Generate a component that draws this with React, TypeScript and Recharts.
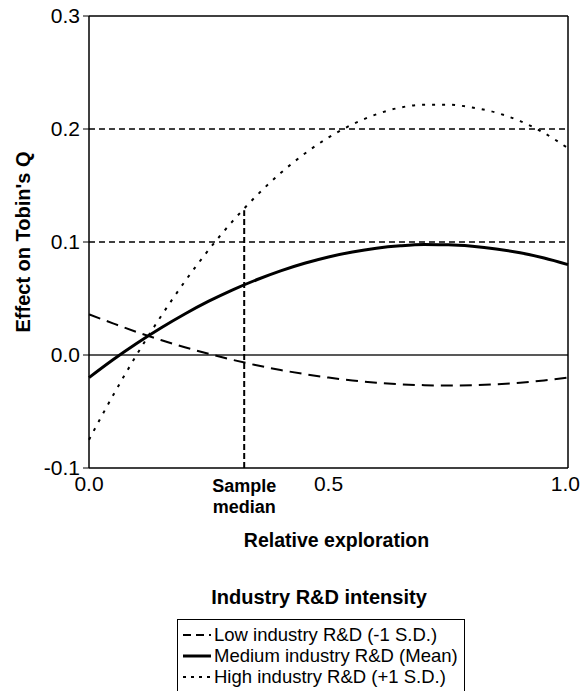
import { LineChart, Line, XAxis, YAxis, ReferenceLine } from "recharts";

const FONT = "'Liberation Sans', Arial, Helvetica, sans-serif";

// relative exploration (x)
const xValues = [0, 0.05, 0.1, 0.15, 0.2, 0.25, 0.3, 0.35, 0.4, 0.45, 0.5, 0.55, 0.6, 0.65, 0.7, 0.75, 0.8, 0.85, 0.9, 0.95, 1.0];

// effect on Tobin's Q
const lowRD = [0.036, 0.028, 0.0203, 0.0133, 0.0069, 0.001, -0.0043, -0.0091, -0.0133, -0.0169, -0.02, -0.0225, -0.0245, -0.0259, -0.0267, -0.027, -0.0267, -0.0259, -0.0245, -0.0225, -0.02];
const mediumRD = [-0.02, -0.0042, 0.0104, 0.0239, 0.0363, 0.0476, 0.0577, 0.0666, 0.0745, 0.0812, 0.0868, 0.0912, 0.0945, 0.0966, 0.0977, 0.0976, 0.0963, 0.0939, 0.0904, 0.0858, 0.08];
const highRD = [-0.075, -0.0359, 0.0005, 0.0341, 0.065, 0.0931, 0.1185, 0.1411, 0.161, 0.1781, 0.1925, 0.2041, 0.213, 0.219, 0.2215, 0.2215, 0.219, 0.2145, 0.207, 0.1965, 0.183];

const yTicks = [-0.1, 0, 0.1, 0.2, 0.3];
const sampleMedian = 0.324;
const sampleMedianTop = 0.128;
const xTicks = [0, sampleMedian, 0.5, 1];
const dashedLevels = [0.1, 0.2];

const seriesNames = ["Low industry R&D (-1 S.D.)", "Medium industry R&D (Mean)", "High industry R&D (+1 S.D.)"];
const seriesKeys = ["low", "medium", "high"];
const seriesDash = ["12 7", "", "3 7"];
const seriesWidth = [2, 3, 2];
const legendDash = ["8 5", "", "3 5"];

const data = xValues.map((x, i) => ({ x, low: lowRD[i], medium: mediumRD[i], high: highRD[i] }));

function XTick({ x, y, payload }: { x?: number; y?: number; payload?: { value: number } }) {
  const v = payload?.value ?? 0;
  const ty = y ?? 0;
  if (v === sampleMedian) {
    return (
      <g>
        <text x={x} y={ty + 16} textAnchor="middle" fontSize={18} fontWeight="bold" fontFamily={FONT} fill="#000">
          Sample
        </text>
        <text x={x} y={ty + 37} textAnchor="middle" fontSize={18} fontWeight="bold" fontFamily={FONT} fill="#000">
          median
        </text>
      </g>
    );
  }
  // keep the last label inside the picture
  const isLast = v === xTicks[xTicks.length - 1];
  return (
    <text
      x={isLast ? (x ?? 0) + 12 : x}
      y={ty + 15}
      textAnchor={isLast ? "end" : "middle"}
      fontSize={21}
      fontFamily={FONT}
      fill="#000"
    >
      {v.toFixed(1)}
    </text>
  );
}

function ChartLegend() {
  return (
    <div style={{ position: "absolute", left: 0, top: 585, width: 640, fontFamily: FONT }}>
      <div style={{ position: "absolute", left: 205, top: 0, width: 228, textAlign: "center", fontWeight: "bold", fontSize: 20, lineHeight: "24px", whiteSpace: "nowrap" }}>
        Industry R&amp;D intensity
      </div>
      <div style={{ position: "absolute", left: 177, top: 34, width: 288, height: 100, border: "1px solid #000", boxSizing: "border-box" }}>
        {seriesNames.map((name, i) => (
          <div key={name} style={{ position: "absolute", left: 4, top: 4 + i * 21, height: 21, display: "flex", alignItems: "center", whiteSpace: "nowrap" }}>
            <svg width={30} height={21} style={{ display: "block" }}>
              <line x1={1} x2={29} y1={11} y2={11} stroke="#000" strokeWidth={i === 1 ? 3 : 2} strokeDasharray={legendDash[i] || undefined} />
            </svg>
            <span style={{ fontSize: 18.5, marginLeft: 2 }}>{name}</span>
          </div>
        ))}
      </div>
    </div>
  );
}

export default function App() {
  return (
    <div style={{ position: "absolute", left: 0, top: 0, width: 581, height: 691, background: "#fff", overflow: "hidden" }}>
      <LineChart width={581} height={691} data={data} margin={{ top: 16, right: 13, left: 0, bottom: 123 }}>
        <XAxis
          dataKey="x"
          type="number"
          domain={[0, 1]}
          ticks={xTicks}
          tickLine={false}
          axisLine={{ stroke: "#000", strokeWidth: 1.5 }}
          tick={<XTick />}
          height={100}
          interval={0}
          label={(props: any) => {
            const vb = props.viewBox ?? { x: 89, y: 468, width: 479 };
            return (
              <text x={vb.x + vb.width / 2 + 8} y={vb.y + 79} textAnchor="middle" fontSize={19.5} fontWeight="bold" fontFamily={FONT} fill="#000">
                Relative exploration
              </text>
            );
          }}
        />
        <YAxis
          type="number"
          domain={[-0.1, 0.3]}
          ticks={yTicks}
          width={89}
          interval={0}
          tickSize={6}
          tickMargin={3}
          tickFormatter={(v: number) => v.toFixed(1)}
          tick={{ fontSize: 21, fill: "#000", fontFamily: FONT }}
          tickLine={{ stroke: "#000" }}
          axisLine={{ stroke: "#000", strokeWidth: 1.5 }}
          label={(props: any) => {
            const vb = props.viewBox ?? { x: 0, y: 16, height: 452 };
            const cx = 30;
            const cy = vb.y + vb.height / 2;
            return (
              <text x={cx} y={cy} transform={`rotate(-90 ${cx} ${cy})`} textAnchor="middle" fontSize={20} fontWeight="bold" fontFamily={FONT} fill="#000">
                Effect on Tobin's Q
              </text>
            );
          }}
        />
        {dashedLevels.map((lv) => (
          <ReferenceLine key={lv} y={lv} stroke="#000" strokeWidth={1.5} strokeDasharray="6 4" />
        ))}
        <ReferenceLine y={0} stroke="#222" strokeWidth={1.5} />
        <ReferenceLine y={0.3} stroke="#000" strokeWidth={1.5} />
        <ReferenceLine x={1} stroke="#000" strokeWidth={1.5} />
        <ReferenceLine
          segment={[
            { x: sampleMedian, y: -0.1 },
            { x: sampleMedian, y: sampleMedianTop },
          ]}
          stroke="#000"
          strokeWidth={2}
          strokeDasharray="6 3"
        />
        {seriesKeys.map((k, i) => (
          <Line
            key={k}
            type="monotone"
            dataKey={k}
            name={seriesNames[i]}
            stroke="#000"
            strokeWidth={seriesWidth[i]}
            strokeDasharray={seriesDash[i] || undefined}
            dot={false}
            activeDot={false}
            isAnimationActive={false}
          />
        ))}
      </LineChart>
      <ChartLegend />
    </div>
  );
}
